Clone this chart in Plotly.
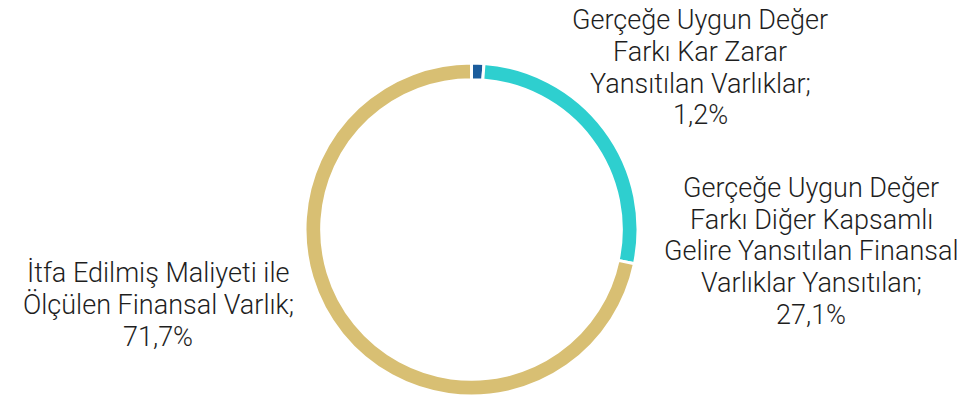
import plotly.graph_objects as go

# Portfolio breakdown by accounting classification (%)
labels = [
    "Gerçeğe Uygun Değer Farkı Kar Zarar Yansıtılan Varlıklar",
    "Gerçeğe Uygun Değer Farkı Diğer Kapsamlı Gelire Yansıtılan Finansal Varlıklar Yansıtılan",
    "İtfa Edilmiş Maliyeti ile Ölçülen Finansal Varlık",
]
values = [1.2, 27.1, 71.7]
colors = ["#1b5c9c", "#2ecfcf", "#d8bf73"]

# Line-broken label text shown next to the ring
label_lines = [
    ["Gerçeğe Uygun Değer", "Farkı Kar Zarar", "Yansıtılan Varlıklar;"],
    ["Gerçeğe Uygun Değer", "Farkı Diğer Kapsamlı", "Gelire Yansıtılan Finansal", "Varlıklar Yansıtılan;"],
    ["İtfa Edilmiş Maliyeti ile", "Ölçülen Finansal Varlık;"],
]
# label placement in pixels: centre x, first baseline y, line step
label_pos = [(700, 29.5, 31.7), (811, 197, 31.8), (158, 282, 32.3)]

W, H = 969, 396
FONT = "Roboto"
FSIZE = 27

fig = go.Figure(
    go.Pie(
        labels=labels,
        values=values,
        sort=False,
        direction="clockwise",
        rotation=0,
        hole=0.9,
        marker=dict(colors=colors, line=dict(color="white", width=3)),
        textinfo="none",
        hoverinfo="label+percent",
        showlegend=False,
        domain=dict(x=[305 / W, 638 / W], y=[0, 333 / H]),
    )
)

for lines, v, (px, base, step) in zip(label_lines, values, label_pos):
    rows = lines + [f"{v:.1f}".replace(".", ",") + "%"]
    for i, row in enumerate(rows):
        yc = base + i * step - 0.34 * FSIZE  # baseline -> box centre
        fig.add_annotation(
            x=px / W, y=1 - yc / H, xref="paper", yref="paper",
            text=row, showarrow=False, align="center",
            xanchor="center", yanchor="middle", borderpad=0,
            font=dict(family=FONT, size=FSIZE, color="#1e1e1e", weight=300),
        )

fig.update_layout(
    width=W, height=H,
    margin=dict(l=0, r=0, t=0, b=0),
    paper_bgcolor="white", plot_bgcolor="white",
    font=dict(family=FONT),
)

fig.write_html("out.html")
